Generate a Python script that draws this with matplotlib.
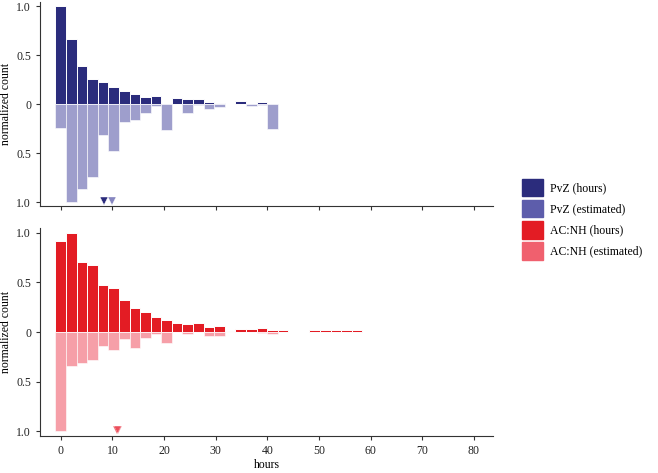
import numpy as np
import matplotlib.pyplot as plt
from matplotlib.patches import Patch

plt.rcParams['font.family'] = ['Liberation Serif', 'DejaVu Serif']
plt.rcParams['font.size'] = 8.5

# histogram bin width (hours) and per-bin normalized counts
bin_width = 2.05

pvz_hours = [1.0, 0.66, 0.39, 0.26, 0.23, 0.17, 0.13, 0.10, 0.075, 0.085,
             0.0, 0.065, 0.055, 0.048, 0.017, 0.01, 0.0, 0.03, 0.0, 0.02, 0.0]
pvz_est = [0.24, 1.0, 0.87, 0.74, 0.32, 0.48, 0.18, 0.165, 0.09, 0.02,
           0.26, 0.0, 0.09, 0.01, 0.055, 0.035, 0.0, 0.0, 0.015, 0.005, 0.25]

acnh_hours = [0.92, 1.0, 0.71, 0.68, 0.47, 0.44, 0.32, 0.24, 0.205, 0.15,
              0.125, 0.09, 0.085, 0.087, 0.05, 0.057, 0.013, 0.033, 0.03, 0.043,
              0.024, 0.024, 0.0, 0.0, 0.02, 0.018, 0.016, 0.018, 0.016]
acnh_est = [1.0, 0.34, 0.31, 0.28, 0.145, 0.18, 0.067, 0.16, 0.057, 0.02,
            0.11, 0.0, 0.022, 0.0, 0.035, 0.04, 0.0, 0.0, 0.0, 0.01, 0.015]

# mean markers
pvz_means = [8.4, 10.0]
acnh_means = [10.8, 11.0]

navy = '#2b2c7c'
navy_est = '#5d5dab'
red = '#e31c24'
red_est = '#f0606e'

fig = plt.figure(figsize=(6.58, 4.73), dpi=100)
ax1 = fig.add_axes([0.061, 0.5645, 0.688, 0.431])
ax2 = fig.add_axes([0.061, 0.078, 0.688, 0.44])


def panel(ax, hours, est, means, c_hours, c_est, ylim):
    xh = np.arange(len(hours)) * bin_width
    xe = np.arange(len(est)) * bin_width
    ax.bar(xh, hours, width=bin_width, color=c_hours, edgecolor='white', linewidth=0.7)
    ax.bar(xe, -np.array(est), width=bin_width, color=c_est, alpha=0.6,
           edgecolor='white', linewidth=0.7)
    ax.plot(means[0], -0.985, marker='v', color=c_hours, markersize=6, markeredgecolor='white',
            markeredgewidth=0.3, linestyle='none', zorder=5)
    ax.plot(means[1], -0.985, marker='v', color=c_est, alpha=0.75, markersize=6,
            markeredgecolor='white', markeredgewidth=0.3, linestyle='none', zorder=6)
    ax.set_xlim(-4, 83.7)
    ax.set_ylim(-ylim, ylim)
    ax.set_yticks([-1, -0.5, 0, 0.5, 1])
    ax.set_yticklabels(['1.0', '0.5', '0', '0.5', '1.0'])
    ax.set_xticks(range(0, 81, 10))
    for s in ['top', 'right']:
        ax.spines[s].set_visible(False)
    for s in ['left', 'bottom']:
        ax.spines[s].set_color('#333333')
        ax.spines[s].set_linewidth(0.8)
    ax.tick_params(colors='#333333', labelcolor='#222222', width=0.8, length=3)
    ax.set_ylabel('normalized count', labelpad=3)


panel(ax1, pvz_hours, pvz_est, pvz_means, navy, navy_est, 1.04)
panel(ax2, acnh_hours, acnh_est, acnh_means, red, red_est, 1.05)
ax1.tick_params(labelbottom=False)
ax2.set_xlabel('hours', labelpad=1)

handles = [Patch(color=navy), Patch(color=navy_est), Patch(color=red), Patch(color=red_est)]
labels = ['PvZ (hours)', 'PvZ (estimated)', 'AC:NH (hours)', 'AC:NH (estimated)']
fig.legend(handles, labels, loc='upper left', bbox_to_anchor=(0.777, 0.644), frameon=False,
           handlelength=1.75, handleheight=1.9, labelspacing=0.3, handletextpad=0.6)

fig.savefig('out.png', dpi=100)
